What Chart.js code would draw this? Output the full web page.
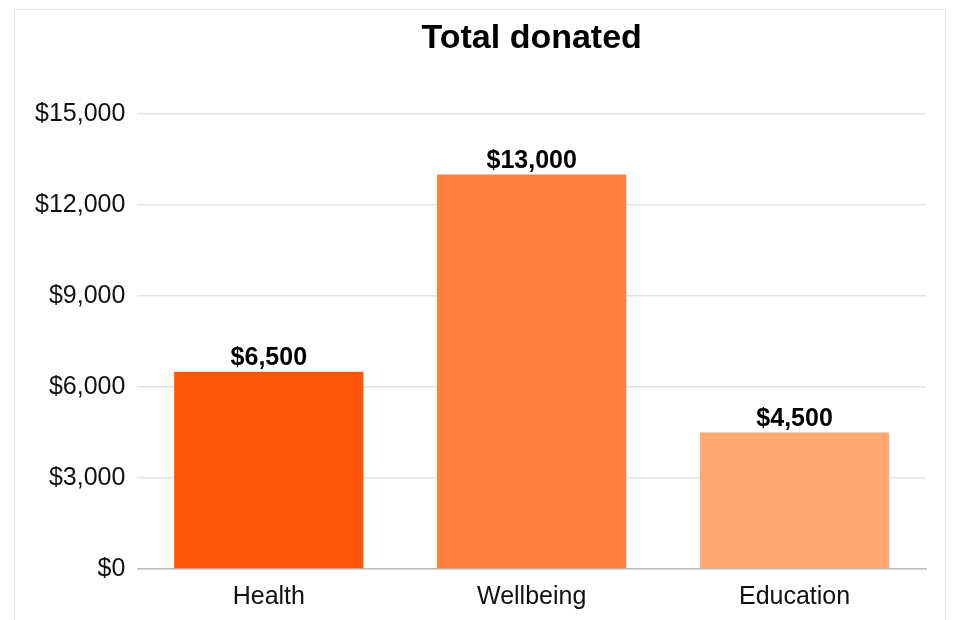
<!DOCTYPE html>
<html>
<head>
<meta charset="utf-8">
<script src="https://cdn.jsdelivr.net/npm/chart.js@4"></script>
<style>
  html, body { margin: 0; padding: 0; background: #ffffff; }
  #box {
    position: absolute; left: 14px; top: 9px;
    width: 932px; height: 640px;
    border: 1px solid #e2e2e2; box-sizing: border-box;
  }
  #grafico { display: block; }
</style>
</head>
<body>
<div id="box"><canvas id="grafico" width="930" height="620"></canvas></div>
<script>
// dados
const categorias = ["Health", "Wellbeing", "Education"];
const valores = [6500, 13000, 4500];
const cores = ["#ff560a", "#ff803e", "#ffa972"];
const eixoY = { min: 0, max: 15000, passo: 3000 };

const fonte = "'Liberation Sans', Arial, sans-serif";

function dinheiro(v) {
    return "$" + Number(v).toLocaleString("en-US");
}

// rótulos acima das barras
const rotulosBarras = {
    id: "rotulosBarras",
    afterDatasetsDraw(chart) {
        const ctx = chart.ctx;
        const meta = chart.getDatasetMeta(0);
        ctx.save();
        ctx.font = "bold 25px " + fonte;
        ctx.fillStyle = "#000000";
        ctx.textAlign = "center";
        ctx.textBaseline = "bottom";
        meta.data.forEach(function (barra, i) {
            ctx.fillText(dinheiro(valores[i]), barra.x, barra.y - 1);
        });
        ctx.restore();
    }
};

document.addEventListener("DOMContentLoaded", function () {
    const grafico = new Chart(document.getElementById("grafico"), {
        type: "bar",
        data: {
            labels: categorias,
            datasets: [
                {
                    label: "Total donated",
                    data: valores,
                    backgroundColor: cores,
                    categoryPercentage: 0.8,
                    barPercentage: 0.9
                }
            ]
        },
        options: {
            responsive: false,
            animation: false,
            layout: { padding: { left: 8, right: 19, top: 0, bottom: 13 } },
            plugins: {
                legend: { display: false },
                tooltip: { enabled: false },
                title: {
                    display: true,
                    text: "Total donated",
                    fullSize: false,
                    color: "#000000",
                    font: { family: fonte, size: 34, weight: "bold" },
                    padding: { top: 8, bottom: 55 }
                }
            },
            scales: {
                x: {
                    grid: { display: false },
                    border: { display: true, color: "#bdbdbd", width: 1.5 },
                    ticks: {
                        color: "#111111",
                        padding: 5,
                        font: { family: fonte, size: 25 }
                    }
                },
                y: {
                    min: eixoY.min,
                    max: eixoY.max,
                    border: { display: false },
                    grid: { color: "#e3e3e3", lineWidth: 1.5, drawTicks: false },
                    ticks: {
                        stepSize: eixoY.passo,
                        color: "#111111",
                        padding: 12,
                        font: { family: fonte, size: 25 },
                        callback: function (v) { return dinheiro(v); }
                    }
                }
            }
        },
        plugins: [rotulosBarras]
    });
});
</script>
</body>
</html>
